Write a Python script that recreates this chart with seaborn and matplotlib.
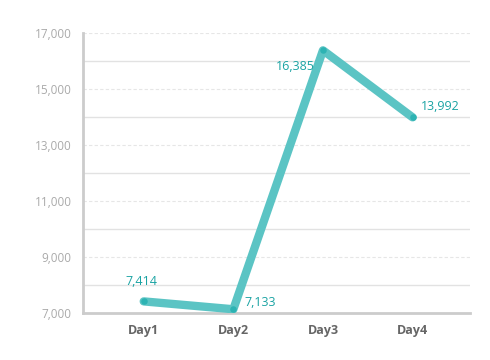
import numpy as np
import pandas as pd
import matplotlib
matplotlib.use("Agg")
import matplotlib.pyplot as plt
import seaborn as sns

days = ["Day1", "Day2", "Day3", "Day4"]
values = [7414, 7133, 16385, 13992]
label_offsets = [(-2, 10), (8, 5), (-6, -12), (6, 8)]
label_align = [("center", "bottom"), ("left", "center"), ("right", "center"), ("left", "center")]

df = pd.DataFrame({"day": days, "value": values})

sns.set_style("white")
plt.rcParams["font.family"] = ["Open Sans", "DejaVu Sans"]

fig = plt.figure(figsize=(4.9, 3.6), dpi=100)
ax = fig.add_axes([0.169, 0.1306, 0.79, 0.7774])

x = np.arange(len(days))
sns.lineplot(x=x, y=df["value"], ax=ax, color="#5bc4c4", linewidth=6,
             solid_capstyle="round", solid_joinstyle="round", zorder=3)
ax.scatter(x, df["value"], s=22, color="#2db3b3", zorder=4, linewidths=0)

for xi, v, off, (ha, va) in zip(x, values, label_offsets, label_align):
    ax.annotate(f"{v:,}", (xi, v), xytext=off, textcoords="offset points",
                ha=ha, va=va, fontsize=9, color="#1aa3a3", zorder=5)

ax.set_xlim(-0.68, 3.64)
ax.set_ylim(7000, 17000)
ax.set_xticks(x)
ax.set_xticklabels(days, fontsize=9, color="#666666", fontweight="bold")
major = list(range(7000, 17001, 2000))
ax.set_yticks(major)
ax.set_yticklabels([f"{t:,}" for t in major], fontsize=8.5, color="#aaaaaa")
ax.tick_params(axis="both", length=0, pad=8)

for t in major[1:]:
    ax.axhline(t, color="#e6e6e6", linewidth=0.8, linestyle=(0, (3, 2)), zorder=1)
for t in range(8000, 17000, 2000):
    ax.axhline(t, color="#e2e2e2", linewidth=1.0, zorder=1)

for s in ["top", "right"]:
    ax.spines[s].set_visible(False)
for s in ["left", "bottom"]:
    ax.spines[s].set_color("#cccccc")
    ax.spines[s].set_linewidth(2)
ax.set_xlabel("")
ax.set_ylabel("")

fig.savefig("out.png", dpi=100)
